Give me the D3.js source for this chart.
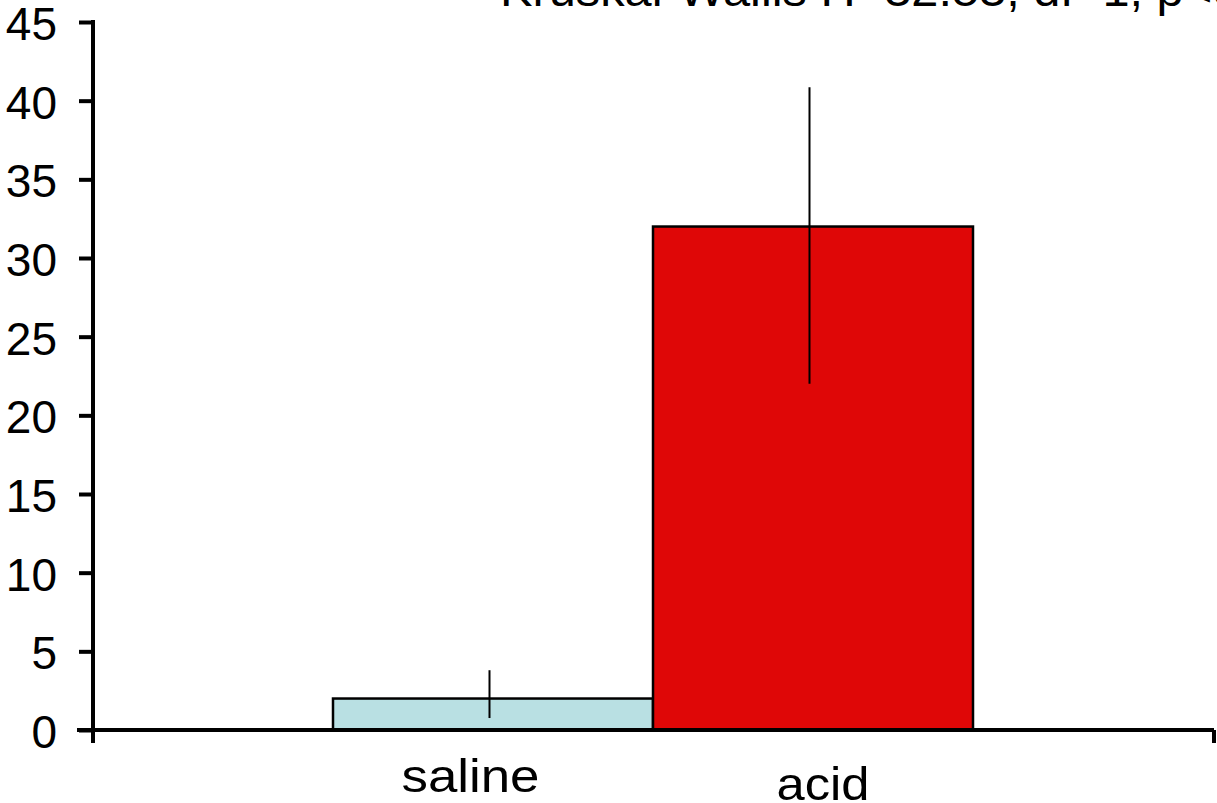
<!DOCTYPE html>
<html><head><meta charset="utf-8">
<script src="https://cdn.jsdelivr.net/npm/d3@7"></script>
<style>html,body{margin:0;padding:0;background:#fff;overflow:hidden}svg{display:block}text{font-family:"Liberation Sans",Arial,sans-serif;fill:#000}</style>
</head><body>
<script>
const categories = ["saline", "acid"];
const means = [2.0, 32.0];
const errLow = [0.76, 22.0];
const errHigh = [3.8, 40.85];
const colors = ["#b9e0e3", "#df0707"];
const yTicks = [0, 5, 10, 15, 20, 25, 30, 35, 40, 45];
const title = "Kruskal-Wallis H=32.53, df=1, p<0.001";

const W = 1217, H = 803;
const svg = d3.select("body").append("svg").attr("width", W).attr("height", H);

const y = d3.scaleLinear().domain([0, 45]).range([730, 22]);
const x = d3.scaleBand().domain(categories).range([333, 973]).padding(0);
const axisX0 = 93, axisX1 = 1214;

// title (cut off at top)
svg.append("text").attr("x", 500).attr("y", 6).attr("font-size", 46)
  .attr("transform", "translate(500,0) scale(1.06,1) translate(-500,0)").text(title);

// y axis
const yAxis = d3.axisLeft(y).tickValues(yTicks).tickSize(14).tickSizeOuter(0).tickPadding(22);
const gy = svg.append("g").attr("transform", `translate(${axisX0},0)`).call(yAxis);
gy.select(".domain").remove();
gy.selectAll(".tick line").attr("stroke", "#000").attr("stroke-width", 4);
gy.selectAll(".tick text").attr("font-size", 46).attr("font-family", "Liberation Sans, Arial, sans-serif").attr("fill", "#000").attr("dy", "0.38em");
svg.append("line").attr("x1", axisX0).attr("x2", axisX0).attr("y1", y(45) - 2).attr("y2", 743)
  .attr("stroke", "#000").attr("stroke-width", 4);

// bars
svg.selectAll("rect.bar").data(categories).join("rect").attr("class", "bar")
  .attr("x", d => x(d)).attr("width", x.bandwidth())
  .attr("y", (d, i) => y(means[i])).attr("height", (d, i) => y(0) - y(means[i]))
  .attr("fill", (d, i) => colors[i]).attr("stroke", "#000").attr("stroke-width", 2.5);

// error bars
svg.selectAll("line.err").data(categories).join("line").attr("class", "err")
  .attr("x1", (d, i) => x(d) + x.bandwidth() / 2 - 3.5).attr("x2", (d, i) => x(d) + x.bandwidth() / 2 - 3.5)
  .attr("y1", (d, i) => y(errLow[i])).attr("y2", (d, i) => y(errHigh[i]))
  .attr("stroke", "#000").attr("stroke-width", 2);

// x axis
svg.append("line").attr("x1", 77).attr("x2", axisX1).attr("y1", y(0)).attr("y2", y(0))
  .attr("stroke", "#000").attr("stroke-width", 4);
svg.append("line").attr("x1", axisX1).attr("x2", axisX1).attr("y1", y(0)).attr("y2", 743)
  .attr("stroke", "#000").attr("stroke-width", 4);

// category labels
const labelDx = [-22.5, 10];
const labelY = [792, 800];
const labelSize = [47, 47];
const labelLen = [138, 93];
svg.selectAll("text.cat").data(categories).join("text").attr("class", "cat")
  .attr("x", (d, i) => x(d) + x.bandwidth() / 2 + labelDx[i]).attr("y", (d, i) => labelY[i])
  .attr("text-anchor", "middle").attr("font-size", (d, i) => labelSize[i])
  .attr("textLength", (d, i) => labelLen[i]).attr("lengthAdjust", "spacingAndGlyphs")
  .text(d => d);
</script>
</body></html>
